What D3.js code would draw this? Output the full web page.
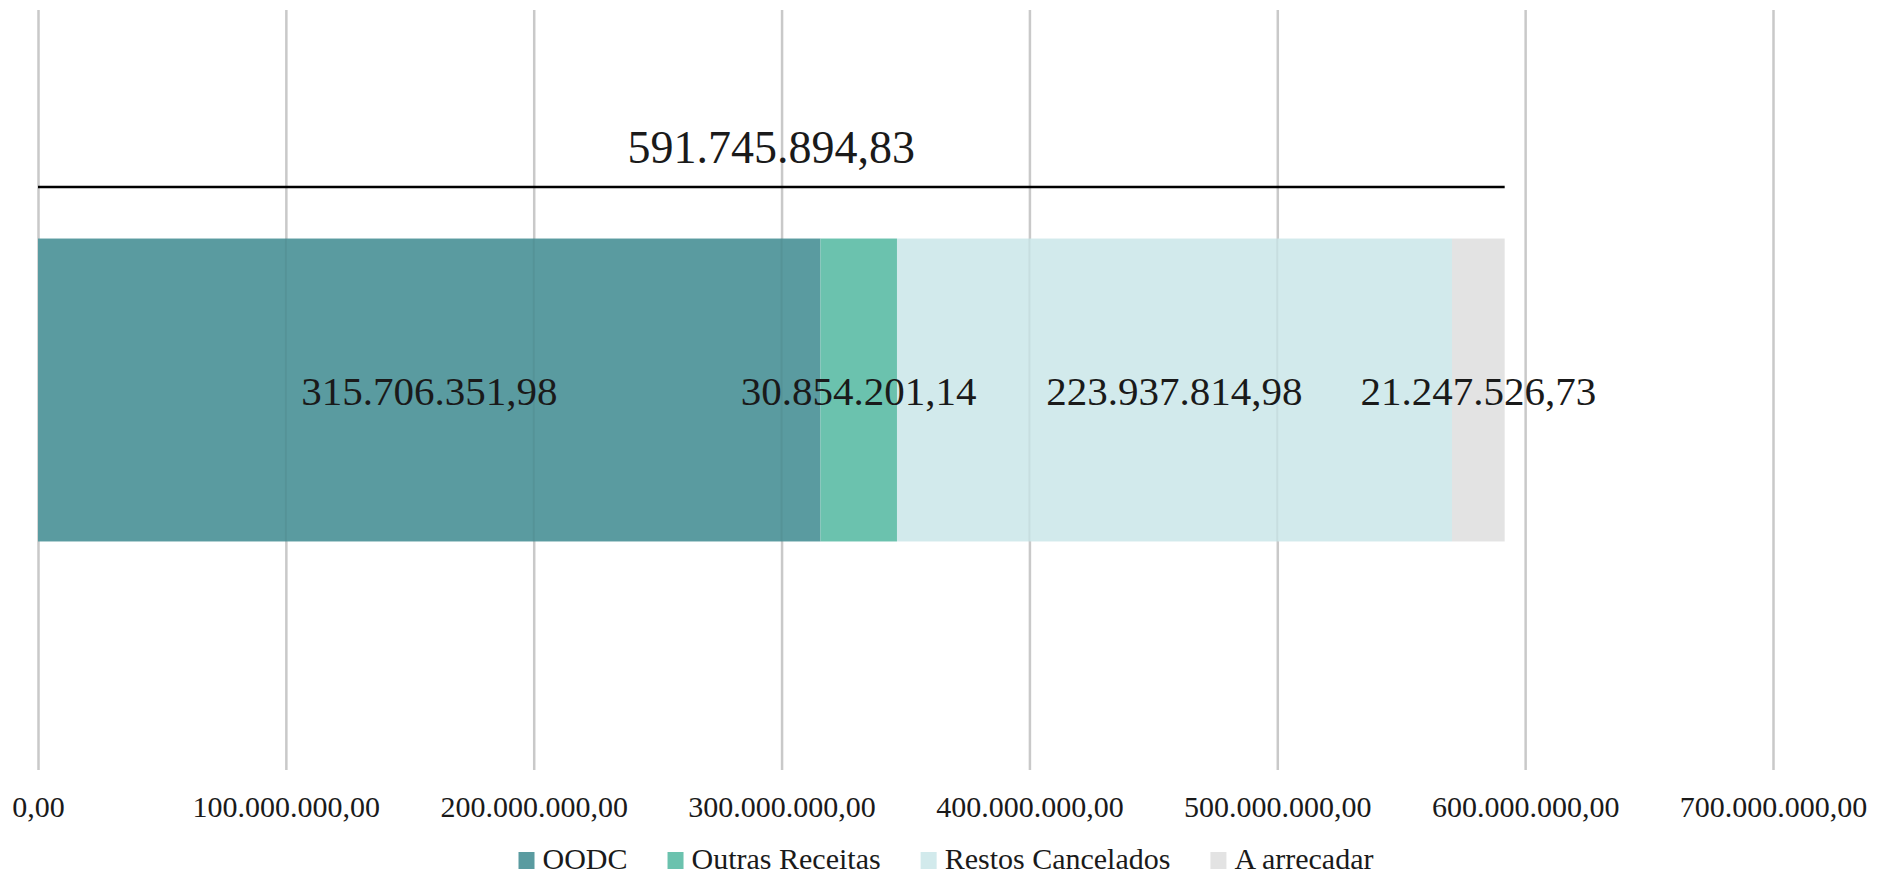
<!DOCTYPE html>
<html>
<head>
<meta charset="utf-8">
<script src="https://cdn.jsdelivr.net/npm/d3@7"></script>
<style>
  body { margin: 0; background: #fff; }
  text { font-family: "Liberation Serif", serif; fill: #1a1a1a; }
</style>
</head>
<body>
<svg id="chart" width="1877" height="877"></svg>
<script>
// data
var categories = ["Receita"];
var seriesNames = ["OODC", "Outras Receitas", "Restos Cancelados", "A arrecadar"];
var seriesValues = [315706351.98, 30854201.14, 223937814.98, 21247526.73];
var totalValue = 591745894.83;
var tickValues = [0, 100000000, 200000000, 300000000, 400000000, 500000000, 600000000, 700000000];
var colors = ["#5a9ba0", "#6bc2ae", "#d2eaec", "#e3e3e3"];

var ptBR = d3.formatLocale({decimal: ",", thousands: ".", grouping: [3], currency: ["R$", ""]});
var fmt = ptBR.format(",.2f");

var svg = d3.select("#chart"),
    plotTop = 10, plotBottom = 770;

var x = d3.scaleLinear()
    .domain([0, 700000000])
    .range([38, 1773]);

var y = d3.scaleBand()
    .domain(categories)
    .range([plotTop, plotBottom])
    .padding(0.43);

// gridlines + tick labels
var axis = svg.append("g")
    .attr("transform", "translate(0," + plotBottom + ")")
    .call(d3.axisBottom(x).tickValues(tickValues).tickFormat(fmt)
          .tickSize(-(plotBottom - plotTop)).tickPadding(26));
axis.select(".domain").remove();
axis.selectAll("line").attr("stroke", "#c9c9c9").attr("stroke-width", 2.5);
axis.selectAll("text").attr("font-size", 30).attr("fill", "#1a1a1a")
    .attr("font-family", "Liberation Serif");

// stacked segments
var stacked = [];
var acc = 0;
seriesValues.forEach(function(v, i){
    stacked.push({name: seriesNames[i], value: v, x0: acc, x1: acc + v, color: colors[i]});
    acc += v;
});

var barY = y(categories[0]), barH = y.bandwidth();

var bars = svg.append("g");
bars.selectAll("rect")
    .data(stacked)
    .enter().append("rect")
    .attr("x", function(d){ return x(d.x0); })
    .attr("width", function(d){ return x(d.x1) - x(d.x0); })
    .attr("y", barY)
    .attr("height", barH)
    .attr("fill", function(d){ return d.color; });

// faint gridlines showing through the bar
bars.selectAll("line.ghost")
    .data(tickValues.filter(function(t){ return t > 0 && t < acc; }))
    .enter().append("line")
    .attr("class", "ghost")
    .attr("x1", function(d){ return x(d); })
    .attr("x2", function(d){ return x(d); })
    .attr("y1", barY)
    .attr("y2", barY + barH)
    .attr("stroke", "#000")
    .attr("stroke-opacity", 0.05)
    .attr("stroke-width", 2);

// segment labels
svg.append("g").selectAll("text")
    .data(stacked)
    .enter().append("text")
    .attr("x", function(d){ return (x(d.x0) + x(d.x1)) / 2; })
    .attr("y", barY + barH / 2 + 15)
    .attr("text-anchor", "middle")
    .attr("font-size", 41)
    .text(function(d){ return fmt(d.value); });

// total line and label
svg.append("line")
    .attr("x1", x(0)).attr("x2", x(totalValue))
    .attr("y1", 187).attr("y2", 187)
    .attr("stroke", "#000").attr("stroke-width", 2.5);

svg.append("text")
    .attr("x", (x(0) + x(totalValue)) / 2)
    .attr("y", 163)
    .attr("text-anchor", "middle")
    .attr("font-size", 46)
    .text(fmt(totalValue));

// legend
var legend = svg.append("g");
var lx = 0;
seriesNames.forEach(function(name, i){
    var item = legend.append("g").attr("transform", "translate(" + lx + ",0)");
    item.append("rect")
        .attr("x", 0).attr("y", -17)
        .attr("width", 16).attr("height", 17)
        .attr("fill", colors[i]);
    var t = item.append("text")
        .attr("x", 24).attr("y", 0)
        .attr("font-size", 30)
        .text(name);
    lx += 24 + t.node().getComputedTextLength() + 40;
});
lx -= 40;
legend.attr("transform", "translate(" + (946 - lx / 2) + ",869)");
</script>
</body>
</html>
